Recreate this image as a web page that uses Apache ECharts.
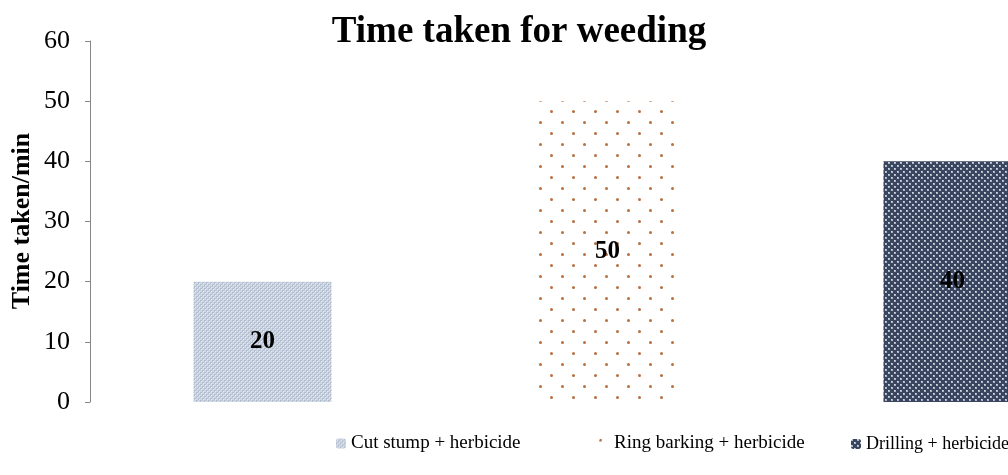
<!DOCTYPE html>
<html><head><meta charset="utf-8">
<script src="https://cdn.jsdelivr.net/npm/echarts@6/dist/echarts.min.js"></script>
<style>html,body{margin:0;padding:0;background:#fff}#c{width:1008px;height:475px}</style>
</head><body><div id="c"></div>
<script>
const categories = ['Cut stump + herbicide', 'Ring barking + herbicide', 'Drilling + herbicide'];
const values = [20, 50, 40];
const yTicks = [0, 10, 20, 30, 40, 50, 60];
const titleText = 'Time taken for weeding';
const yAxisTitle = 'Time taken/min';

const FONT = '"Liberation Serif", "Times New Roman", serif';

function makeTile(w, h, draw) {
  const c = document.createElement('canvas');
  c.width = w; c.height = h;
  const ctx = c.getContext('2d');
  draw(ctx);
  return c;
}
// bar 1: fine light blue-grey checker
const pat1 = makeTile(4, 4, ctx => {
  ctx.fillStyle = '#cfd7e3'; ctx.fillRect(0, 0, 4, 4);
  ctx.fillStyle = '#b3bfd1'; ctx.fillRect(0, 0, 2, 2); ctx.fillRect(2, 2, 2, 2);
  ctx.fillStyle = '#e6ebf2'; ctx.fillRect(1, 1, 1, 1); ctx.fillRect(3, 3, 1, 1);
});
// bar 2: white with brown dots
const pat2 = makeTile(22, 22, ctx => {
  ctx.fillStyle = '#ffffff'; ctx.fillRect(0, 0, 22, 22);
  ctx.fillStyle = '#b8703f';
  ctx.beginPath(); ctx.arc(1.5, 1.5, 1.5, 0, Math.PI * 2); ctx.fill();
  ctx.beginPath(); ctx.arc(12.5, 12.5, 1.5, 0, Math.PI * 2); ctx.fill();
});
// bar 3: dark navy with light cross pattern
const pat3 = makeTile(6, 6, ctx => {
  ctx.fillStyle = '#3a4660'; ctx.fillRect(0, 0, 6, 6);
  ctx.fillStyle = '#aeb6c4';
  ctx.fillRect(0, 0, 2, 2); ctx.fillRect(3, 3, 2, 2);
  ctx.fillStyle = '#d8dde6';
  ctx.fillRect(0, 0, 1, 1); ctx.fillRect(3, 3, 1, 1);
});
const patterns = [pat1, pat2, pat3];
const legendLefts = [336, 599, 851];
const legendSizes = [19, 19, 18];

// each category occupies one unit on the x scale; the visible window shows
// 2.66 of the 3 slots (the original chart is cut off at the right)
const series = categories.map((name, i) => ({
  name: name,
  type: 'bar',
  barWidth: 138,
  barGap: '-100%',
  clip: true,
  data: [[i + 0.5, values[i]]],
  itemStyle: { color: { image: patterns[i], repeat: 'repeat' } },
  label: {
    show: true, position: 'inside',
    fontFamily: FONT, fontWeight: 'bold', fontSize: 25, color: '#000'
  }
}));

const legends = categories.map((name, i) => ({
  data: [name], bottom: 22, left: legendLefts[i],
  itemWidth: 10, itemHeight: 10, itemGap: 0, padding: 0,
  textStyle: { fontFamily: FONT, fontSize: legendSizes[i], color: '#000' }
}));

const chart = echarts.init(document.getElementById('c'), null, { renderer: 'canvas' });
chart.setOption({
  animation: false,
  title: {
    text: titleText, left: 514, top: 9, textAlign: 'center',
    textStyle: { fontFamily: FONT, fontWeight: 'bold', fontSize: 37, color: '#000' }
  },
  legend: legends,
  grid: { left: 90, top: 41, right: 0, bottom: 73 },
  xAxis: {
    type: 'value', min: 0, max: 2.661,
    axisLine: { show: false }, axisTick: { show: false }, axisLabel: { show: false },
    splitLine: { show: false }
  },
  yAxis: {
    type: 'value', min: yTicks[0], max: yTicks[yTicks.length - 1], interval: 10,
    axisLine: { show: true, lineStyle: { color: '#868686' } },
    axisTick: { show: true, length: 5, lineStyle: { color: '#868686' } },
    axisLabel: { fontFamily: FONT, fontSize: 26, color: '#000', margin: 20 },
    splitLine: { show: false }
  },
  graphic: [{
    type: 'text', x: 22, y: 221, rotation: Math.PI / 2,
    style: {
      text: yAxisTitle, fontFamily: FONT, fontWeight: 'bold', fontSize: 26,
      fill: '#000', align: 'center', verticalAlign: 'middle'
    }
  }],
  series: series
});
</script></body></html>
